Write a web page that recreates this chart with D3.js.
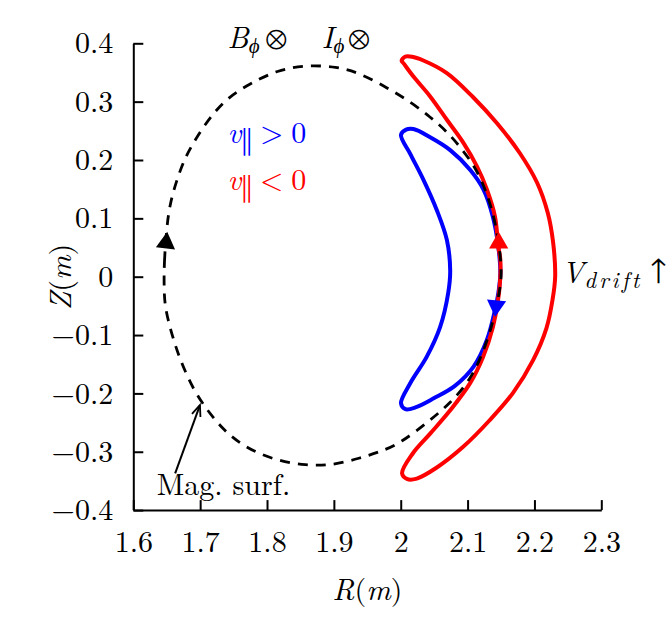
<!DOCTYPE html>
<html>
<head>
<meta charset="utf-8">
<script src="https://cdn.jsdelivr.net/npm/d3@7"></script>
<style>
  body { margin: 0; background: #fff; }
</style>
</head>
<body>
<div id="chart"></div>
<script>
// axis ticks
const xTicks = [1.6, 1.7, 1.8, 1.9, 2.0, 2.1, 2.2, 2.3];
const xTickLabels = ['1.6', '1.7', '1.8', '1.9', '2', '2.1', '2.2', '2.3'];
const yTicks = [0.4, 0.3, 0.2, 0.1, 0, -0.1, -0.2, -0.3, -0.4];
const yTickLabels = ['0.4', '0.3', '0.2', '0.1', '0', '\u22120.1', '\u22120.2', '\u22120.3', '\u22120.4'];

// magnetic surface [R, Z]
const magSurface = [
  [1.646, -0.018], [1.646, 0.023], [1.650, 0.086], [1.655, 0.126], [1.665, 0.166],
  [1.677, 0.203], [1.692, 0.234], [1.715, 0.274], [1.742, 0.308], [1.775, 0.331],
  [1.815, 0.354], [1.859, 0.363], [1.904, 0.360], [1.939, 0.349], [1.981, 0.323],
  [2.014, 0.300], [2.044, 0.274], [2.069, 0.249], [2.093, 0.217], [2.114, 0.183],
  [2.129, 0.143], [2.141, 0.097], [2.149, 0.041], [2.151, 0.000], [2.147, -0.031],
  [2.138, -0.079], [2.123, -0.131], [2.104, -0.177], [2.074, -0.217], [2.044, -0.246],
  [1.999, -0.286], [1.969, -0.300], [1.939, -0.311], [1.899, -0.323], [1.859, -0.324],
  [1.809, -0.314], [1.765, -0.291], [1.735, -0.263], [1.710, -0.228], [1.690, -0.194],
  [1.670, -0.143], [1.657, -0.097], [1.647, -0.051]
];

// orbit with v_par < 0 (red)
const orbitNeg = [
  [2.0013, 0.370], [2.0064, 0.377], [2.0169, 0.377], [2.033, 0.371], [2.069, 0.349],
  [2.108, 0.308], [2.144, 0.263], [2.178, 0.212], [2.204, 0.161], [2.220, 0.109],
  [2.228, 0.058], [2.231, 0.000], [2.227, -0.040], [2.218, -0.088], [2.198, -0.143],
  [2.168, -0.199], [2.133, -0.246], [2.093, -0.292], [2.054, -0.327], [2.024, -0.346],
  [2.010, -0.347], [2.002, -0.337], [2.018, -0.303], [2.044, -0.269], [2.074, -0.229],
  [2.104, -0.182], [2.123, -0.138], [2.138, -0.086], [2.147, -0.028], [2.149, 0.029],
  [2.146, 0.051], [2.141, 0.103], [2.129, 0.149], [2.114, 0.189], [2.094, 0.229],
  [2.069, 0.269], [2.044, 0.309], [2.019, 0.343], [2.004, 0.366]
];

// orbit with v_par > 0 (blue)
const orbitPos = [
  [2.0004, 0.243], [2.008, 0.252], [2.019, 0.253], [2.044, 0.239], [2.074, 0.217],
  [2.104, 0.183], [2.124, 0.149], [2.138, 0.102], [2.146, 0.051], [2.149, 0.006],
  [2.146, -0.028], [2.141, -0.057], [2.129, -0.108], [2.109, -0.154], [2.081, -0.187],
  [2.050, -0.208], [2.022, -0.224], [2.007, -0.227], [2.0004, -0.217], [2.014, -0.183],
  [2.039, -0.137], [2.059, -0.086], [2.071, -0.028], [2.074, 0.010], [2.069, 0.063],
  [2.054, 0.114], [2.034, 0.166], [2.014, 0.211]
];

// direction markers: [R, Z, angle in degrees, colour]
const dirMarkers = [
  [1.649, 0.058, 6, '#000000'],
  [2.1465, 0.058, 0, '#ff0000'],
  [2.1426, -0.050, 185, '#0000ff']
];

const serif = '"Latin Modern Roman", "Liberation Serif", serif';
const symbolFont = '"FreeSerif", "DejaVu Serif", serif';

const width = 672;
const height = 620;

const x = d3.scaleLinear().domain([1.6, 2.3]).range([133.3, 601.3]);
const y = d3.scaleLinear().domain([-0.4, 0.4]).range([510.1, 43.3]);

const svg = d3.select('#chart').append('svg')
  .attr('width', width)
  .attr('height', height);

// axes, ticks pointing inwards
const xAxis = svg.append('g')
  .attr('transform', `translate(0,${y(-0.4)})`)
  .call(d3.axisBottom(x)
    .tickValues(xTicks)
    .tickFormat((d, i) => xTickLabels[i])
    .tickSizeInner(-10)
    .tickSizeOuter(0)
    .tickPadding(21));

const yAxis = svg.append('g')
  .attr('transform', `translate(${x(1.6)},0)`)
  .call(d3.axisLeft(y)
    .tickValues(yTicks)
    .tickFormat((d, i) => yTickLabels[i])
    .tickSizeInner(-10)
    .tickSizeOuter(0)
    .tickPadding(20));

[xAxis, yAxis].forEach(g => {
  g.attr('font-family', null).attr('font-size', null);
  g.select('.domain').attr('stroke', '#000').attr('stroke-width', 2);
  g.selectAll('.tick line').attr('stroke', '#000').attr('stroke-width', 2);
  g.selectAll('.tick text')
    .attr('fill', '#000')
    .style('font-family', serif)
    .style('font-size', '30px');
});

// small helper for math-like labels built from tspans
const addMath = (px, py, parts, opts = {}) => {
  const t = svg.append('text')
    .attr('fill', opts.color || '#000')
    .style('font-family', serif)
    .style('font-size', '30px');
  if (opts.transform) t.attr('transform', opts.transform);
  else t.attr('x', px).attr('y', py);
  if (opts.anchor) t.attr('text-anchor', opts.anchor);
  parts.forEach(p => {
    const s = t.append('tspan').text(p.text);
    if (p.italic) s.style('font-style', 'italic');
    if (p.size) s.style('font-size', p.size + 'px');
    if (p.family) s.style('font-family', p.family);
    if (p.ls) s.style('letter-spacing', p.ls + 'px');
    if (p.dy) s.attr('dy', p.dy);
    if (p.dx) s.attr('dx', p.dx);
  });
  return t;
};

const unitParts = (letter) => [
  { text: letter, italic: true },
  { text: '(' },
  { text: 'm', italic: true },
  { text: ')' }
];

// axis titles
addMath(367.5, 600, unitParts('R'), { anchor: 'middle' });
addMath(0, 0, unitParts('Z'), { anchor: 'middle', transform: 'translate(71,277) rotate(-90)' });

// curves
const orbitLine = d3.line()
  .x(d => x(d[0]))
  .y(d => y(d[1]))
  .curve(d3.curveCatmullRomClosed.alpha(0.5));

// the surface is a smooth oval, so a smoothing spline evens out reading noise
const surfaceLine = d3.line()
  .x(d => x(d[0]))
  .y(d => y(d[1]))
  .curve(d3.curveBasisClosed);

svg.append('path')
  .datum(orbitPos)
  .attr('d', orbitLine)
  .attr('fill', 'none')
  .attr('stroke', '#0000ff')
  .attr('stroke-width', 4);

svg.append('path')
  .datum(orbitNeg)
  .attr('d', orbitLine)
  .attr('fill', 'none')
  .attr('stroke', '#ff0000')
  .attr('stroke-width', 4);

svg.append('path')
  .datum(magSurface)
  .attr('d', surfaceLine)
  .attr('fill', 'none')
  .attr('stroke', '#000')
  .attr('stroke-width', 2.8)
  .attr('stroke-dasharray', '10,8');

// direction triangles
const tri = d3.symbol().type(d3.symbolTriangle).size(160);
svg.selectAll('.dir')
  .data(dirMarkers)
  .join('path')
  .attr('class', 'dir')
  .attr('d', tri)
  .attr('fill', d => d[3])
  .attr('transform', d => `translate(${x(d[0])},${y(d[1])}) rotate(${d[2]})`);

// "Mag. surf." pointer
svg.append('defs').append('marker')
  .attr('id', 'openhead')
  .attr('viewBox', '-12 -6 14 12')
  .attr('refX', 0)
  .attr('refY', 0)
  .attr('markerWidth', 14)
  .attr('markerHeight', 12)
  .attr('markerUnits', 'userSpaceOnUse')
  .attr('orient', 'auto')
  .append('path')
  .attr('d', 'M-11,-4.5L0,0L-11,4.5')
  .attr('fill', 'none')
  .attr('stroke', '#000')
  .attr('stroke-width', 1.8);

svg.append('line')
  .attr('x1', x(1.6626)).attr('y1', y(-0.337))
  .attr('x2', x(1.6997)).attr('y2', y(-0.220))
  .attr('stroke', '#000')
  .attr('stroke-width', 2)
  .attr('marker-end', 'url(#openhead)');

addMath(x(1.635), y(-0.374), [{ text: 'Mag. surf.' }]);

// field / current direction
addMath(x(1.741), y(0.392), [
  { text: 'B', italic: true },
  { text: '\u03d5', italic: true, size: 21, dy: 5 },
  { text: '\u2297', size: 33, dy: -5, dx: 6, family: symbolFont }
]);

addMath(x(1.882), y(0.392), [
  { text: 'I', italic: true },
  { text: '\u03d5', italic: true, size: 21, dy: 5, dx: 0 },
  { text: '\u2297', size: 33, dy: -5, dx: 4, family: symbolFont }
]);

// orbit legend
addMath(x(1.741), y(0.229), [
  { text: 'v', italic: true },
  { text: '\u2225', size: 33, dy: 7, dx: 0, family: symbolFont },
  { text: '>', dy: -7, dx: 8 },
  { text: '0', dx: 8 }
], { color: '#0000ff' });

addMath(x(1.741), y(0.149), [
  { text: 'v', italic: true },
  { text: '\u2225', size: 33, dy: 7, dx: 0, family: symbolFont },
  { text: '<', dy: -7, dx: 8 },
  { text: '0', dx: 8 }
], { color: '#ff0000' });

// drift direction
addMath(x(2.2455) - 3, y(-0.011), [
  { text: 'V', italic: true },
  { text: 'drift', italic: true, size: 23, dy: 5, ls: 3 },
  { text: '\u2191', size: 34, dy: -5, dx: 8, family: symbolFont }
]);
</script>
</body>
</html>
